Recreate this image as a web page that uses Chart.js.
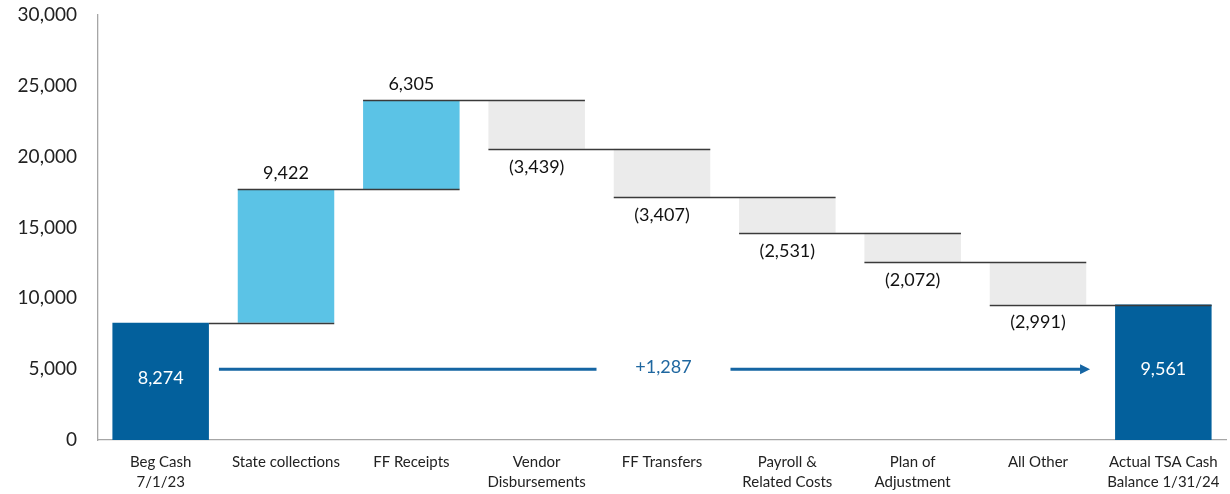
<!DOCTYPE html>
<html>
<head>
<meta charset="utf-8">
<script src="https://cdn.jsdelivr.net/npm/chart.js@4"></script>
<style>
  html, body { margin: 0; padding: 0; background: #fff; }
  #wrap { width: 1230px; height: 494px; }
</style>
</head>
<body>
<div id="wrap"><canvas id="grafico" width="1230" height="494"></canvas></div>
<script>
// Dados do gráfico
const categorias = [
  ['Beg Cash', '7/1/23'],
  'State collections',
  'FF Receipts',
  ['Vendor', 'Disbursements'],
  'FF Transfers',
  ['Payroll &', 'Related Costs'],
  ['Plan of', 'Adjustment'],
  'All Other',
  ['Actual TSA Cash', 'Balance 1/31/24']
];
const saldoInicial = 8274;
const variacoes = [9422, 6305, -3439, -3407, -2531, -2072, -2991];
const saldoFinal = 9561;
const variacaoTotal = '+1,287';
const nivelSeta = 5000;
const ticksY = [0, 5000, 10000, 15000, 20000, 25000, 30000];

const fonte = 'Lato, "Open Sans", sans-serif';
const azulEscuro = '#03609c';
const azulClaro = '#5bc3e6';
const cinza = '#ebebeb';

// Monta as barras flutuantes [inicio, fim]
const barras = [[0, saldoInicial]];
let acumulado = saldoInicial;
variacoes.forEach(v => {
  barras.push([acumulado, acumulado + v]);
  acumulado += v;
});
barras.push([0, saldoFinal]);

const cores = barras.map((b, i) => {
  if (i === 0 || i === barras.length - 1) return azulEscuro;
  return variacoes[i - 1] >= 0 ? azulClaro : cinza;
});

const fmt = n => Math.abs(n).toLocaleString('en-US');

// Plugin: linhas de ligação, rótulos e seta
const extras = {
  id: 'extras',
  afterDatasetsDraw(chart) {
    const ctx = chart.ctx;
    const meta = chart.getDatasetMeta(0);
    const y = chart.scales.y;

    // linhas de ligação
    ctx.save();
    ctx.strokeStyle = '#3a3a3a';
    ctx.lineWidth = 1.3;
    for (let i = 0; i < barras.length - 1; i++) {
      const a = meta.data[i], b = meta.data[i + 1];
      const yy = Math.round(y.getPixelForValue(barras[i][1])) + 0.5;
      const x0 = i === 0 ? a.x + a.width / 2 : a.x - a.width / 2;
      ctx.beginPath();
      ctx.moveTo(x0, yy);
      ctx.lineTo(b.x + b.width / 2, yy);
      ctx.stroke();
    }
    ctx.restore();

    // rótulos dos valores
    ctx.save();
    ctx.font = '18px ' + fonte;
    ctx.textAlign = 'center';
    ctx.textBaseline = 'middle';
    barras.forEach((b, i) => {
      const el = meta.data[i];
      if (i === 0 || i === barras.length - 1) {
        ctx.fillStyle = '#ffffff';
        const valor = b[1];
        ctx.fillText(fmt(valor), el.x, y.getPixelForValue(valor / 2) - 3);
      } else {
        const v = variacoes[i - 1];
        ctx.fillStyle = '#111111';
        if (v >= 0) {
          ctx.fillText(fmt(v), el.x, y.getPixelForValue(b[1]) - 16);
        } else {
          ctx.fillText('(' + fmt(v) + ')', el.x, y.getPixelForValue(b[1]) + 18);
        }
      }
    });
    ctx.restore();

    // seta com a variação total
    const primeiro = meta.data[0];
    const ultimo = meta.data[barras.length - 1];
    const xIni = primeiro.x + primeiro.width / 2 + 10;
    const xFim = ultimo.x - ultimo.width / 2 - 25;
    const yS = y.getPixelForValue(nivelSeta);
    const meio = (xIni + xFim) / 2 + 9;
    ctx.save();
    ctx.strokeStyle = '#1565a3';
    ctx.fillStyle = '#1565a3';
    ctx.lineWidth = 3;
    ctx.beginPath();
    ctx.moveTo(xIni, yS);
    ctx.lineTo(meio - 67, yS);
    ctx.moveTo(meio + 67, yS);
    ctx.lineTo(xFim - 8, yS);
    ctx.stroke();
    ctx.beginPath();
    ctx.moveTo(xFim, yS);
    ctx.lineTo(xFim - 10, yS - 5);
    ctx.lineTo(xFim - 10, yS + 5);
    ctx.closePath();
    ctx.fill();
    ctx.font = '18px ' + fonte;
    ctx.textAlign = 'center';
    ctx.textBaseline = 'middle';
    ctx.fillStyle = '#1f67a0';
    ctx.fillText(variacaoTotal, meio, yS - 2);
    ctx.restore();
  }
};

new Chart(document.getElementById('grafico'), {
  type: 'bar',
  data: {
    labels: categorias,
    datasets: [{
      data: barras,
      backgroundColor: cores,
      borderWidth: 0,
      borderSkipped: false,
      barPercentage: 0.77,
      categoryPercentage: 1
    }]
  },
  options: {
    responsive: false,
    animation: false,
    layout: { padding: { top: 15, right: 4, left: 0, bottom: 0 } },
    plugins: {
      legend: { display: false },
      tooltip: { enabled: false }
    },
    scales: {
      x: {
        grid: { display: false, drawTicks: false },
        border: { display: true, color: '#a6a6a6', width: 1.3 },
        ticks: {
          color: '#222',
          font: { family: fonte, size: 15, lineHeight: 1.35 },
          padding: 12,
          maxRotation: 0,
          autoSkip: false
        },
        afterFit(s) { s.height = 54; s.paddingLeft = 0; s.paddingRight = 0; }
      },
      y: {
        min: 0,
        max: 30000,
        grid: { display: false, drawTicks: false },
        border: { display: true, color: '#a6a6a6', width: 1.3 },
        afterBuildTicks(s) { s.ticks = ticksY.map(v => ({ value: v })); },
        ticks: {
          color: '#222',
          font: { family: fonte, size: 19 },
          padding: 21,
          callback: v => v.toLocaleString('en-US')
        },
        afterFit(s) { s.width = 98; s.paddingTop = 0; s.paddingBottom = 0; }
      }
    }
  },
  plugins: [extras]
});
</script>
</body>
</html>
